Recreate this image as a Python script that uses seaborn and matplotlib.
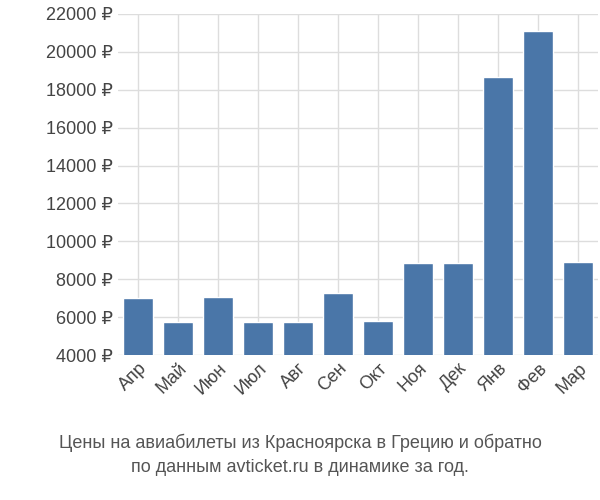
import matplotlib
matplotlib.use('Agg')
import matplotlib.pyplot as plt
import seaborn as sns
import pandas as pd

months = ['Апр', 'Май', 'Июн', 'Июл', 'Авг', 'Сен', 'Окт', 'Ноя', 'Дек', 'Янв', 'Фев', 'Мар']
prices = [7000, 5750, 7050, 5730, 5730, 7250, 5780, 8870, 8850, 18700, 21100, 8900]
yticks = list(range(4000, 22001, 2000))

sns.set_theme(style='whitegrid')
plt.rcParams['font.family'] = ['Liberation Sans', 'DejaVu Sans']

df = pd.DataFrame({'month': months, 'price': prices})
fig = plt.figure(figsize=(6, 5), dpi=100)
ax = fig.add_axes([0.197, 0.29, 0.8, 0.682])
sns.barplot(data=df, x='month', y='price', color='#4a76a8', width=0.75,
            saturation=1, ax=ax, zorder=2)
ax.set_ylim(4000, 22000)
ax.set_yticks(yticks)
ax.set_yticklabels([f'{v} ₽' for v in yticks], fontsize=13, color='#444444')
ax.set_xticks(range(len(months)))
ax.set_xticklabels(months, rotation=45, ha='right', rotation_mode='anchor', fontsize=13, color='#444444')
ax.set_xlim(-0.5, len(months) - 0.5)
ax.grid(True, axis='both', color='#dddddd', linewidth=1)
ax.set_axisbelow(True)
for s in ax.spines.values():
    s.set_visible(False)
ax.set_xlabel('')
ax.set_ylabel('')
ax.tick_params(length=0)
fig.text(0.5, 0.09, 'Цены на авиабилеты из Красноярска в Грецию и обратно\nпо данным avticket.ru в динамике за год.',
         ha='center', va='center', fontsize=13, color='#555555', linespacing=1.5)
fig.savefig('out.png')
